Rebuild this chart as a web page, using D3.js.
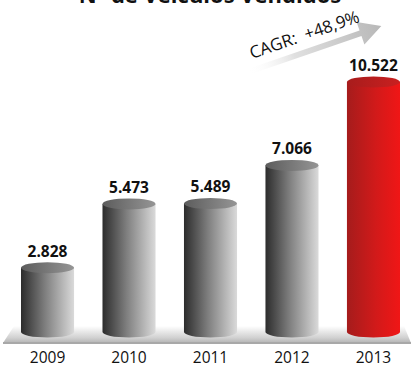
<!DOCTYPE html>
<html><head><meta charset="utf-8">
<script src="https://cdn.jsdelivr.net/npm/d3@7"></script>
<style>html,body{margin:0;padding:0;background:#fff;}svg{display:block;}</style>
</head><body>
<script>
const years = ["2009","2010","2011","2012","2013"];
const values = [2828, 5473, 5489, 7066, 10522];
const valueLabels = ["2.828","5.473","5.489","7.066","10.522"];
const highlight = [false,false,false,false,true];
const title = "Nº de Veículos Vendidos";
const cagrLabel = "CAGR:  +48,9%";

const W = 413, H = 367;
const svg = d3.select("body").append("svg").attr("width", W).attr("height", H);
const defs = svg.append("defs");

function lin(id, stops, x2, y2) {
  const g = defs.append("linearGradient").attr("id", id)
    .attr("x1", "0%").attr("y1", "0%").attr("x2", x2).attr("y2", y2);
  stops.forEach(s => g.append("stop").attr("offset", s[0]).attr("stop-color", s[1]).attr("stop-opacity", s[2] == null ? 1 : s[2]));
}
lin("grayBody", [["0%","#2c2c2c"],["45%","#7e7e7e"],["100%","#dadada"]], "100%", "0%");
lin("grayTop", [["0%","#5c5c5c"],["100%","#959595"]], "100%", "0%");
lin("redBody", [["0%","#a51c1c"],["55%","#d21a1a"],["100%","#f01616"]], "100%", "0%");
lin("redTop", [["0%","#a81c1c"],["100%","#c92020"]], "100%", "0%");
lin("floor", [["0%","#ffffff"],["70%","#d0d0d0"],["100%","#b4b4b4"]], "0%", "100%");
lin("arrowGrad", [["0%","#ffffff",0],["35%","#e0e0e0"],["100%","#b8b8b8"]], "100%", "0%");

// Title (cut at top, as in the reference)
svg.append("text").attr("x", 210).attr("y", 3).attr("text-anchor", "middle")
  .attr("font-family", "Open Sans").attr("font-weight", "bold").attr("font-size", 22)
  .attr("fill", "#111").text(title);

const x = d3.scaleBand().domain(years).range([21, 400]).paddingInner(0.349).paddingOuter(0);
const y = d3.scaleLinear().domain([0, 10522]).range([336, 82]);
const ry = 5.5;
const baseY = 332;

// floor platform
svg.append("path")
  .attr("d", "M14,326 L404,326 L411,343 L3,343 Z")
  .attr("fill", "url(#floor)");
svg.append("rect").attr("x", 3).attr("y", 342).attr("width", 408).attr("height", 2).attr("fill", "#a8a8a8");

const g = svg.append("g");
years.forEach((yr, i) => {
  const x0 = x(yr), bw = x.bandwidth(), rx = bw / 2, cx = x0 + rx;
  const top = y(values[i]);
  const hi = highlight[i];
  g.append("path")
    .attr("d", `M${x0},${top} L${x0},${baseY} A${rx},${ry} 0 0 0 ${x0 + bw},${baseY} L${x0 + bw},${top} Z`)
    .attr("fill", hi ? "url(#redBody)" : "url(#grayBody)");
  g.append("ellipse").attr("cx", cx).attr("cy", top).attr("rx", rx).attr("ry", ry)
    .attr("fill", hi ? "url(#redTop)" : "url(#grayTop)");
  g.append("text").attr("x", cx).attr("y", top - 11).attr("text-anchor", "middle")
    .attr("font-family", "Open Sans").attr("font-weight", "bold").attr("font-size", 15.5)
    .attr("fill", "#111").text(valueLabels[i]);
  g.append("text").attr("x", cx).attr("y", 363).attr("text-anchor", "middle")
    .attr("font-family", "Open Sans").attr("font-size", 15.5)
    .attr("fill", "#111").text(yr);
});

// CAGR arrow
const ang = -19;
const ag = svg.append("g").attr("transform", `translate(248,72) rotate(${ang})`);
const L = 141, hl = 22, sh = 3, hw = 12;
ag.append("path")
  .attr("d", `M0,${-sh} L${L - hl},${-sh} L${L - hl},${-hw} L${L},0 L${L - hl},${hw} L${L - hl},${sh} L0,${sh} Z`)
  .attr("fill", "url(#arrowGrad)");
ag.append("text").attr("x", 8).attr("y", -11)
  .attr("xml:space", "preserve").style("white-space", "pre")
  .attr("font-family", "Open Sans").attr("font-size", 17)
  .attr("fill", "#111").text(cagrLabel);
</script>
</body></html>
